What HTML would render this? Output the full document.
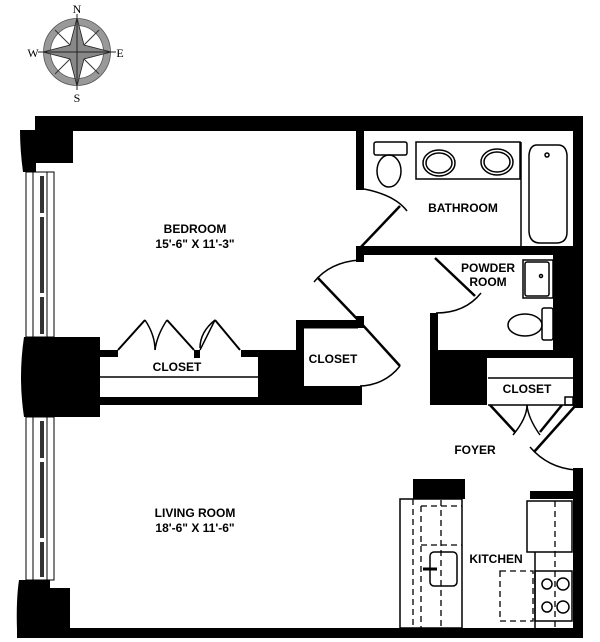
<!DOCTYPE html>
<html><head><meta charset="utf-8"><style>
html,body{margin:0;padding:0;background:#fff;}
svg{display:block;}
text{font-family:"Liberation Sans",sans-serif;font-weight:bold;fill:#000;}
</style></head><body>
<svg width="600" height="642" viewBox="0 0 600 642" xmlns="http://www.w3.org/2000/svg">
<g>
<circle cx="77" cy="52" r="30" fill="none" stroke="#999" stroke-width="7"/>
<circle cx="77" cy="52" r="33.5" fill="none" stroke="#555" stroke-width="0.8"/>
<circle cx="77" cy="52" r="26.5" fill="none" stroke="#555" stroke-width="0.8"/>
<line x1="55" y1="30" x2="99" y2="74" stroke="#333" stroke-width="1"/>
<line x1="99" y1="30" x2="55" y2="74" stroke="#333" stroke-width="1"/>
<polygon points="77,18 84,45 111,52 84,59 77,86 70,59 43,52 70,45" fill="#888" stroke="#222" stroke-width="0.8"/>
<line x1="77" y1="14" x2="77" y2="90" stroke="#222" stroke-width="1"/>
<line x1="38" y1="52" x2="116" y2="52" stroke="#222" stroke-width="1"/>
<text x="77" y="13" font-size="12" text-anchor="middle" style="font-family:'Liberation Serif',serif;font-weight:normal">N</text>
<text x="77" y="102" font-size="12" text-anchor="middle" style="font-family:'Liberation Serif',serif;font-weight:normal">S</text>
<text x="33" y="57" font-size="12" text-anchor="middle" style="font-family:'Liberation Serif',serif;font-weight:normal">W</text>
<text x="120" y="57" font-size="12" text-anchor="middle" style="font-family:'Liberation Serif',serif;font-weight:normal">E</text>
</g>

<g fill="#000">
<rect x="35" y="116" width="548" height="15"/>
<rect x="35" y="116" width="38" height="47"/>
<path d="M20,130 L36,130 L36,172 L23,172 Q20,150 20,130Z"/>
<rect x="573" y="116" width="10" height="292"/>
<rect x="573" y="468" width="10" height="170"/>
<rect x="17" y="628" width="566" height="10"/>
<path d="M19,580 L50,580 L50,588 L70,588 L70,630 L17,630 Q16,600 19,580Z"/>
<path d="M24,337 L100,337 L100,417 L24,417 Q18,377 24,337Z"/>
<rect x="100" y="350" width="18" height="7"/>
<rect x="194" y="350" width="6" height="8"/>
<rect x="241" y="350" width="60" height="7"/>
<rect x="258" y="350" width="44" height="55"/>
<rect x="100" y="397" width="262" height="8"/>
<rect x="296" y="320" width="66" height="85"/>
<rect x="356" y="130" width="8" height="60"/>
<rect x="356" y="246" width="217" height="9"/>
<rect x="356" y="246" width="8" height="16"/>
<rect x="356" y="316" width="8" height="12"/>
<rect x="430" y="313" width="8" height="92"/>
<rect x="553" y="254" width="20" height="104"/>
<rect x="430" y="350" width="143" height="8"/>
<rect x="430" y="350" width="57" height="55"/>
<rect x="413" y="479" width="52" height="20"/>
<rect x="530" y="491" width="43" height="8"/>
</g>
<rect x="304" y="328" width="60" height="58" fill="#fff"/>
<rect x="356" y="316" width="8" height="12" fill="#000"/>
<line x1="304" y1="328" x2="358" y2="328" stroke="#000" stroke-width="1"/>

<g fill="none" stroke="#000" stroke-width="1">
<rect x="26" y="172" width="28" height="165"/>
<line x1="33" y1="172" x2="33" y2="337"/><line x1="47" y1="172" x2="47" y2="337"/>
<rect x="26" y="417" width="28" height="163"/>
<line x1="33" y1="417" x2="33" y2="580"/><line x1="47" y1="417" x2="47" y2="580"/>
</g>
<rect x="40" y="176" width="4" height="158" fill="#333"/>
<rect x="40" y="421" width="4" height="156" fill="#333"/>
<rect x="39" y="213" width="6" height="4" fill="#fff"/><rect x="39" y="293" width="6" height="4" fill="#fff"/>
<rect x="39" y="458" width="6" height="4" fill="#fff"/><rect x="39" y="538" width="6" height="4" fill="#fff"/>

<g fill="none" stroke="#000" stroke-width="1.5">
<line x1="100" y1="377" x2="258" y2="377"/>
<line x1="118" y1="350" x2="145" y2="320" stroke-width="2"/>
<path d="M145,320 Q155,335 155,350"/>
<line x1="194" y1="350" x2="167" y2="320" stroke-width="2"/>
<path d="M167,320 Q157,335 155,350"/>
<line x1="200" y1="350" x2="215" y2="320"/>
<path d="M215,320 Q200,332 200,348"/>
<line x1="240" y1="350" x2="215" y2="320" stroke-width="2"/>
<line x1="360" y1="322" x2="400" y2="366" stroke-width="2.5"/>
<path d="M400,366 Q385,385 360,386"/>
<line x1="360" y1="322" x2="318" y2="278" stroke-width="2.5"/>
<path d="M314,282 Q330,262 360,260"/>
<line x1="360" y1="248" x2="400" y2="206" stroke-width="2.5"/>
<path d="M364,189 Q395,195 407,211"/>
<line x1="435" y1="258" x2="475" y2="296" stroke-width="2.5"/>
<path d="M481,293 Q465,313 436,313"/>
<rect x="374" y="142" width="33" height="13" rx="2"/>
<ellipse cx="389" cy="171" rx="12" ry="16"/>
<rect x="416" y="142" width="104" height="37"/>
<ellipse cx="439" cy="163" rx="16" ry="13"/><ellipse cx="439" cy="163" rx="13" ry="10"/>
<ellipse cx="497" cy="162" rx="16" ry="13"/><ellipse cx="497" cy="162" rx="13" ry="10"/>
<line x1="521" y1="142" x2="521" y2="246"/>
<path d="M537,145 L558,145 Q566,145 567,155 L567,232 Q567,243 556,243 L540,243 Q530,243 529,232 L529,155 Q530,145 537,145Z"/>
<circle cx="547" cy="155" r="2"/>
<rect x="523" y="260" width="30" height="38"/>
<rect x="525" y="262" width="24" height="34" rx="2"/>
<circle cx="541" cy="276" r="1.5"/>
<rect x="542" y="308" width="11" height="32" rx="2"/>
<ellipse cx="525" cy="325" rx="17" ry="11"/>
<line x1="488" y1="378" x2="573" y2="378"/>
<line x1="488" y1="405" x2="573" y2="405"/>
<rect x="565" y="397" width="8" height="8"/>
<line x1="490" y1="405" x2="515" y2="432" stroke-width="2.5"/>
<path d="M513,435 Q527,418 527,405"/>
<line x1="562" y1="405" x2="540" y2="432" stroke-width="2.5"/>
<path d="M540,435 Q528,418 527,405"/>
<line x1="576" y1="405" x2="534" y2="452" stroke-width="2.5"/>
<path d="M530,447 Q548,468 576,470"/>
<rect x="400" y="499" width="62" height="129"/>
<rect x="527" y="501" width="45" height="51"/>
<rect x="535" y="571" width="37" height="50"/>
<line x1="535" y1="552" x2="535" y2="628"/>
<rect x="430" y="552" width="27" height="34" rx="4"/>
<line x1="423" y1="569" x2="437" y2="569" stroke-width="3"/>
<circle cx="547" cy="584" r="5"/><circle cx="563" cy="584" r="6"/>
<circle cx="547" cy="607" r="5"/><circle cx="563" cy="607" r="6"/>
</g>
<g fill="none" stroke="#000" stroke-width="1.3" stroke-dasharray="6,4">
<line x1="413" y1="499" x2="413" y2="628"/>
<line x1="421" y1="506" x2="421" y2="628"/>
<line x1="441" y1="500" x2="441" y2="628"/>
<line x1="421" y1="506" x2="462" y2="506"/>
<line x1="421" y1="545" x2="462" y2="545"/>
<line x1="555" y1="501" x2="555" y2="628"/>
<rect x="500" y="571" width="33" height="50"/>
</g>

<g font-size="12" text-anchor="middle">
<text x="195" y="233">BEDROOM</text>
<text x="195" y="248">15'-6" X 11'-3"</text>
<text x="463" y="212">BATHROOM</text>
<text x="488" y="272">POWDER</text>
<text x="488" y="286">ROOM</text>
<text x="177" y="371">CLOSET</text>
<text x="333" y="363">CLOSET</text>
<text x="527" y="393">CLOSET</text>
<text x="475" y="454">FOYER</text>
<text x="195" y="517">LIVING ROOM</text>
<text x="195" y="532">18'-6" X 11'-6"</text>
<text x="496" y="563">KITCHEN</text>
</g>
</svg>
</body></html>
